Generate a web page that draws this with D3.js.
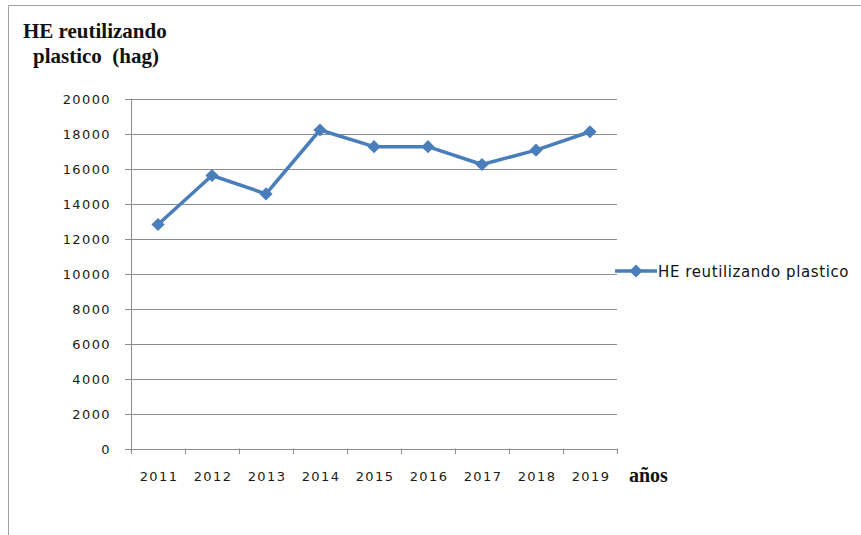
<!DOCTYPE html>
<html>
<head>
<meta charset="utf-8">
<script src="https://cdn.jsdelivr.net/npm/d3@7"></script>
<style>
  body { margin: 0; background: #fff; }
</style>
</head>
<body>
<div id="viz"></div>
<script>
const years = ["2011", "2012", "2013", "2014", "2015", "2016", "2017", "2018", "2019"];
const values = [12800, 15600, 14550, 18200, 17250, 17250, 16230, 17050, 18100];
const yTicks = [0, 2000, 4000, 6000, 8000, 10000, 12000, 14000, 16000, 18000, 20000];
const seriesName = "HE reutilizando plastico";

const svg = d3.select("#viz").append("svg")
  .attr("width", 861)
  .attr("height", 535);

// outer chart frame (only top and left edges show)
svg.append("path")
  .attr("d", "M8.5,540 V5.5 H870")
  .attr("fill", "none")
  .attr("stroke", "#a0a0a0");

const x = d3.scaleBand().domain(years).range([131, 617]);
const y = d3.scaleLinear().domain([0, 20000]).range([448.5, 98.5]);

// gridlines
svg.append("g")
  .selectAll("line")
  .data(yTicks)
  .join("line")
    .attr("x1", 125)
    .attr("x2", 617)
    .attr("y1", d => Math.round(y(d)) + 0.5)
    .attr("y2", d => Math.round(y(d)) + 0.5)
    .attr("stroke", "#8c8c8c");

// y axis line
svg.append("line")
  .attr("x1", 131.5).attr("x2", 131.5)
  .attr("y1", 98.5).attr("y2", 454)
  .attr("stroke", "#8c8c8c");

// x tick marks
svg.append("g")
  .selectAll("line")
  .data(years.concat(["end"]))
  .join("line")
    .attr("x1", (d, i) => Math.round(131 + i * x.bandwidth()) + 0.5)
    .attr("x2", (d, i) => Math.round(131 + i * x.bandwidth()) + 0.5)
    .attr("y1", 448.5)
    .attr("y2", 454)
    .attr("stroke", "#8c8c8c");

// y tick labels
svg.append("g")
  .selectAll("text")
  .data(yTicks)
  .join("text")
    .attr("x", 111)
    .attr("y", d => y(d) + 5)
    .attr("text-anchor", "end")
    .attr("font-family", "DejaVu Sans")
    .attr("font-size", "13px")
    .attr("letter-spacing", "1.4px")
    .attr("fill", "#1a1a1a")
    .text(d => d);

// x tick labels
svg.append("g")
  .selectAll("text")
  .data(years)
  .join("text")
    .attr("x", d => x(d) + x.bandwidth() / 2 + 1)
    .attr("y", 481)
    .attr("text-anchor", "middle")
    .attr("font-family", "DejaVu Sans")
    .attr("font-size", "13px")
    .attr("letter-spacing", "1.4px")
    .attr("fill", "#1a1a1a")
    .text(d => d);

// titles
const title = svg.append("text")
  .attr("font-family", "Liberation Serif")
  .attr("font-weight", "bold")
  .attr("font-size", "21px")
  .style("white-space", "pre")
  .attr("fill", "#111");
title.append("tspan").attr("x", 23).attr("y", 38).text("HE reutilizando");
title.append("tspan").attr("x", 33).attr("y", 63).text("plastico  (hag)");

svg.append("text")
  .attr("x", 629)
  .attr("y", 482)
  .attr("font-family", "Liberation Serif")
  .attr("font-weight", "bold")
  .attr("font-size", "20px")
  .attr("fill", "#111")
  .text("años");

// series line
const color = "#4a7ebb";
const line = d3.line()
  .x((d, i) => x(years[i]) + x.bandwidth() / 2)
  .y(d => y(d));

svg.append("path")
  .datum(values)
  .attr("d", line)
  .attr("fill", "none")
  .attr("stroke", color)
  .attr("stroke-width", 3.5)
  .attr("stroke-linejoin", "round");

const diamond = d3.symbol().type(d3.symbolDiamond2).size(110);

svg.append("g")
  .selectAll("path")
  .data(values)
  .join("path")
    .attr("transform", (d, i) => `translate(${x(years[i]) + x.bandwidth() / 2},${y(d)})`)
    .attr("d", diamond)
    .attr("fill", color);

// legend
const lg = svg.append("g").attr("transform", "translate(615,271)");
lg.append("line")
  .attr("x1", 0).attr("x2", 42)
  .attr("stroke", color)
  .attr("stroke-width", 3.5);
lg.append("path")
  .attr("transform", "translate(21,0)")
  .attr("d", diamond)
  .attr("fill", color);
lg.append("text")
  .attr("x", 43)
  .attr("y", 5.5)
  .attr("font-family", "DejaVu Sans")
  .attr("font-size", "15px")
  .attr("letter-spacing", "0.6px")
  .attr("fill", "#111")
  .text(seriesName);
</script>
</body>
</html>
